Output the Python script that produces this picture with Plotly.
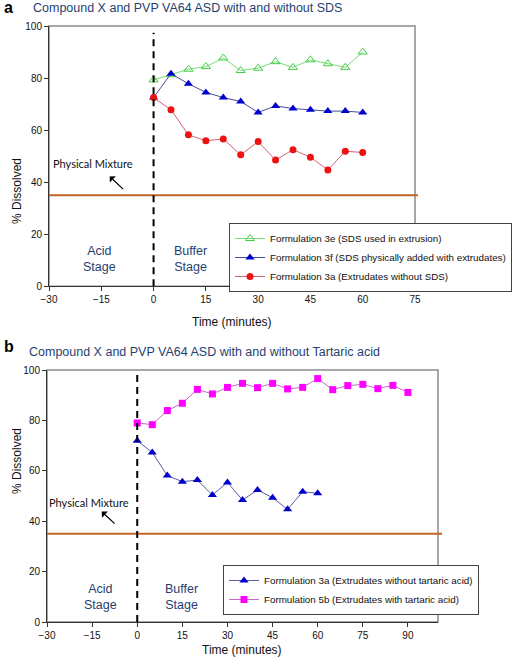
import plotly.graph_objects as go

# ---------------- data ----------------
time_a = [0, 5, 10, 15, 20, 25, 30, 35, 40, 45, 50, 55, 60]
f3e = [79.3, 81.3, 83.4, 84.4, 87.7, 82.9, 83.8, 86.3, 84.1, 87.0, 85.5, 84.1, 90.0]
f3f = [72.5, 81.7, 77.8, 74.5, 72.5, 71.0, 66.8, 69.3, 68.3, 67.8, 67.3, 67.3, 66.8]
f3a = [72.5, 67.8, 58.2, 55.9, 56.6, 50.5, 55.6, 48.5, 52.5, 49.6, 44.7, 51.9, 51.4]

time_b3a = [0, 5, 10, 15, 20, 25, 30, 35, 40, 45, 50, 55, 60]
f3a_b = [71.9, 67.3, 58.1, 55.7, 56.3, 50.4, 55.4, 48.4, 52.4, 49.3, 44.7, 51.7, 51.1]
time_b5b = [0, 5, 10, 15, 20, 25, 30, 35, 40, 45, 50, 55, 60, 65, 70, 75, 80, 85, 90]
f5b = [79.0, 78.3, 83.9, 86.8, 92.3, 90.5, 93.1, 94.7, 93.0, 94.7, 92.5, 93.1, 96.6,
       92.2, 93.8, 94.3, 92.6, 93.9, 91.1]

physical_mixture = 35
x_range_a = [-30, 75]
x_range_b = [-30, 100]
y_range = [0, 100]

names_a = ["Formulation 3e (SDS used in extrusion)",
           "Formulation 3f (SDS physically added with extrudates)",
           "Formulation 3a (Extrudates without SDS)"]
names_b = ["Formulation 3a (Extrudates without tartaric acid)",
           "Formulation 5b (Extrudates with tartaric acid)"]
title_a = "Compound X and PVP VA64 ASD with and without SDS"
title_b = "Compound X and PVP VA64 ASD with and without Tartaric acid"

# ---------------- figure ----------------
W, H = 520, 667
def px(x):
    return x / W
def py(y):
    return 1 - y / H

fig = go.Figure()

fig.add_trace(go.Scatter(x=time_a, y=f3e, name=names_a[0], mode="lines+markers",
                         line=dict(color="#77DD77", width=1),
                         marker=dict(symbol="triangle-up-open", size=8, color="#44CC44",
                                     line=dict(width=1, color="#44CC44")),
                         xaxis="x", yaxis="y", legend="legend"))
fig.add_trace(go.Scatter(x=time_a, y=f3f, name=names_a[1], mode="lines+markers",
                         line=dict(color="#4B4B9E", width=1),
                         marker=dict(symbol="triangle-up", size=8, color="#0000CC"),
                         xaxis="x", yaxis="y", legend="legend"))
fig.add_trace(go.Scatter(x=time_a, y=f3a, name=names_a[2], mode="lines+markers",
                         line=dict(color="#CC6677", width=1),
                         marker=dict(symbol="circle", size=7, color="#EE1111"),
                         xaxis="x", yaxis="y", legend="legend"))

fig.add_trace(go.Scatter(x=time_b3a, y=f3a_b, name=names_b[0], mode="lines+markers",
                         line=dict(color="#5A5AAA", width=1),
                         marker=dict(symbol="triangle-up", size=8, color="#0000CC"),
                         xaxis="x2", yaxis="y2", legend="legend2"))
fig.add_trace(go.Scatter(x=time_b5b, y=f5b, name=names_b[1], mode="lines+markers",
                         line=dict(color="#CC66CC", width=1),
                         marker=dict(symbol="square", size=7, color="#FF00FF"),
                         xaxis="x2", yaxis="y2", legend="legend2"))

axis_common = dict(showgrid=False, zeroline=False, showline=True, linecolor="#333333",
                   linewidth=1, ticks="outside", ticklen=4, tickcolor="#333333",
                   tickfont=dict(family="Liberation Sans, Arial", size=10, color="#111111"),
                   fixedrange=True, automargin=False)

dom_a_x = [px(49), px(415)]
dom_a_y = [py(286.3), py(26)]
dom_b_x = [px(47), px(438)]
dom_b_y = [py(622), py(370)]

legend_common = dict(xanchor="left", yanchor="top", bgcolor="white",
                     bordercolor="#444444", borderwidth=1,
                     font=dict(family="Liberation Sans, Arial", size=9.8, color="#111111"),
                     tracegroupgap=0, itemwidth=30)

fig.update_layout(
    width=W, height=H,
    margin=dict(l=0, r=0, t=0, b=0, pad=0, autoexpand=False),
    paper_bgcolor="white", plot_bgcolor="white",
    xaxis=dict(domain=dom_a_x, range=x_range_a, dtick=15, tick0=-30, anchor="y", **axis_common),
    yaxis=dict(domain=dom_a_y, range=y_range, dtick=20, anchor="x", **axis_common),
    xaxis2=dict(domain=dom_b_x, range=x_range_b, dtick=15, tick0=-30, anchor="y2", **axis_common),
    yaxis2=dict(domain=dom_b_y, range=y_range, dtick=20, anchor="x2", **axis_common),
    legend=dict(x=px(229), y=py(223), **legend_common),
    legend2=dict(x=px(223), y=py(565), **legend_common),
    showlegend=True,
)

shapes = []
for xa, ya in (("x", "y"), ("x2", "y2")):
    # gray frame (top/right)
    shapes.append(dict(type="rect", xref=f"{xa} domain", yref=f"{ya} domain",
                       x0=0, x1=1, y0=0, y1=1, line=dict(color="#8A8A8A", width=1.5),
                       layer="below"))
# physical mixture lines
shapes.append(dict(type="line", xref="paper", yref="y", x0=dom_a_x[0], x1=px(418),
                   y0=physical_mixture, y1=physical_mixture,
                   line=dict(color="#C0642A", width=2)))
shapes.append(dict(type="line", xref="paper", yref="y2", x0=dom_b_x[0], x1=px(442),
                   y0=physical_mixture, y1=physical_mixture,
                   line=dict(color="#C0642A", width=2)))
# dashed stage divider at t = 0
shapes.append(dict(type="line", xref="x", yref="y", x0=0, x1=0, y0=0, y1=97.4,
                   line=dict(color="black", width=2, dash="7px,5px")))
shapes.append(dict(type="line", xref="x2", yref="y2", x0=0, x1=0, y0=0, y1=100,
                   line=dict(color="black", width=2, dash="7px,5px")))
fig.update_layout(shapes=shapes)

ann = []
title_font = dict(family="Liberation Sans, Arial", size=12.5, color="#1F3F6F")
ann.append(dict(text="<b>a</b>", x=px(2), y=py(8), xref="paper", yref="paper",
                xanchor="left", yanchor="middle", showarrow=False,
                font=dict(family="Liberation Sans, Arial", size=16, color="black")))
ann.append(dict(text=title_a, x=px(31), y=py(8), xref="paper", yref="paper",
                xanchor="left", yanchor="middle", showarrow=False, font=title_font))
ann.append(dict(text="<b>b</b>", x=px(2), y=py(346), xref="paper", yref="paper",
                xanchor="left", yanchor="middle", showarrow=False,
                font=dict(family="Liberation Sans, Arial", size=16, color="black")))
ann.append(dict(text=title_b, x=px(27), y=py(352), xref="paper", yref="paper",
                xanchor="left", yanchor="middle", showarrow=False, font=title_font))

axis_title_font = dict(family="Liberation Sans, Arial", size=12, color="#111111")
ann.append(dict(text="% Dissolved", x=px(8), y=py(156), xref="paper", yref="paper",
                textangle=-90, showarrow=False, font=axis_title_font))
ann.append(dict(text="Time (minutes)", x=px(232), y=py(322), xref="paper", yref="paper",
                showarrow=False, font=axis_title_font))
ann.append(dict(text="% Dissolved", x=px(8), y=py(496), xref="paper", yref="paper",
                textangle=-90, showarrow=False, font=axis_title_font))
ann.append(dict(text="Time (minutes)", x=px(242), y=py(659), xref="paper", yref="paper",
                showarrow=False, font=axis_title_font))

stage_font = dict(family="Liberation Sans, Arial", size=12.5, color="#1F3F6F")
pm_font = dict(family="Lato, Open Sans", size=11, color="#111111")
for xa, ya, acid_x, buf_x, stage_y, pm_x, pm_y, tail, head in (
        ("x", "y", -15.5, 10.6, 10.5, -17.5, 47, (-8.3, 36.8), (-12.6, 42.2)),
        ("x2", "y2", -12.3, 14.7, 10.1, -16, 47.3, (-7, 38.5), (-11.8, 43.8))):
    ann.append(dict(text="Acid<br>Stage", x=acid_x, y=stage_y, xref=xa, yref=ya,
                    showarrow=False, font=stage_font))
    ann.append(dict(text="Buffer<br>Stage", x=buf_x, y=stage_y, xref=xa, yref=ya,
                    showarrow=False, font=stage_font))
    ann.append(dict(text="Physical Mixture", x=pm_x, y=pm_y, xref=xa, yref=ya,
                    showarrow=False, font=pm_font))
    ann.append(dict(text="", x=head[0], y=head[1], ax=tail[0], ay=tail[1],
                    xref=xa, yref=ya, axref=xa, ayref=ya, showarrow=True,
                    arrowhead=1, arrowsize=1.2, arrowwidth=1.2, arrowcolor="black"))
fig.update_layout(annotations=ann)

fig.write_html("out.html", config={"displayModeBar": False},
               post_script="document.body.style.margin='0';document.body.style.overflow='hidden';")
